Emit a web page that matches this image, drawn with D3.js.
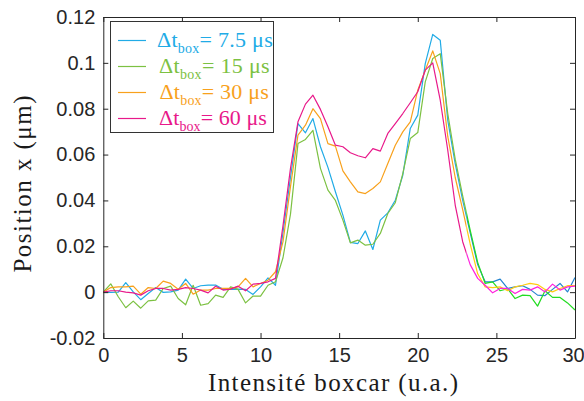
<!DOCTYPE html>
<html><head><meta charset="utf-8">
<script src="https://cdn.jsdelivr.net/npm/d3@7"></script>
<style>html,body{margin:0;padding:0;background:#fff;}svg{display:block;}</style>
</head><body><svg id="c" width="584" height="401"></svg>
<script>
const xValues = [0,0.476,0.952,1.429,1.905,2.381,2.857,3.333,3.810,4.286,4.762,5.238,5.714,6.190,6.667,7.143,7.619,8.095,8.571,9.048,9.524,10,10.476,10.952,11.429,11.905,12.381,12.857,13.333,13.810,14.286,14.762,15.238,15.714,16.190,16.667,17.143,17.619,18.095,18.571,19.048,19.524,20,20.476,20.952,21.429,21.905,22.381,22.857,23.333,23.810,24.286,24.762,25.238,25.714,26.190,26.667,27.143,27.619,28.095,28.571,29.048,29.524,30];
const seriesNames = ["7.5 μs","15 μs","30 μs","60 μs"];
const blue = [0,-0.0001,0,0.0041,0.0001,-0.0033,-0.0006,0.002,-0.0001,0.0001,0.0009,0.0057,0.0016,0.0028,0.0031,0.0031,0.0012,0.0012,0.0013,0.0012,-0.001,0.0023,0.0062,0.003,0.026,0.050,0.0735,0.0695,0.0757,0.0634,0.0544,0.0438,0.0336,0.0217,0.0212,0.0267,0.0186,0.0314,0.0346,0.0401,0.051,0.0714,0.0772,0.0997,0.1124,0.1099,0.075,0.056,0.040,0.026,0.012,0.0045,0.0045,0.0057,0.0016,0.0023,0.0028,0.0012,-0.0013,-0.0015,0.0012,0.0038,0.0001,0.0064];
const green = [0,0.0036,-0.002,-0.0068,-0.0039,-0.007,-0.0038,-0.0035,0.0016,0.0026,-0.0028,-0.0055,0.003,-0.0057,-0.005,-0.0013,-0.0023,0.0023,0.0012,-0.0047,-0.0017,-0.0017,0.003,0.0045,0.015,0.034,0.0648,0.0666,0.0706,0.054,0.0445,0.040,0.0314,0.0215,0.0227,0.0205,0.0209,0.0256,0.0343,0.039,0.0517,0.067,0.0696,0.0917,0.1019,0.104,0.078,0.058,0.042,0.027,0.013,0.0038,0.0045,0.0006,0.0015,-0.0028,-0.0013,-0.0015,-0.0061,0.0006,-0.0023,-0.0023,-0.0047,-0.0078];
const orange = [0,0.002,0.0023,0.0023,0.0026,-0.0009,0.002,0.0016,0.0048,0.0038,0.0013,0.0038,-0.0009,0.0009,0.0009,0.0016,0.0016,0.0016,0.0023,0.006,0.0023,0.0038,0.0052,0.0089,0.022,0.046,0.0685,0.0728,0.080,0.0757,0.0648,0.0637,0.0529,0.0481,0.0437,0.043,0.0452,0.0481,0.0561,0.0641,0.0699,0.0743,0.0881,0.0968,0.1052,0.0953,0.068,0.050,0.036,0.021,0.008,0.0023,0.002,0.0023,0.0006,0.0023,0.003,0.0038,0.0033,0.0012,0.0001,0.0016,0.0028,0.0029];
const pink = [0,0.0006,0.0006,0,-0.0003,-0.0013,0.0006,0.0016,0.0016,0.0009,0.0012,0.002,0.0016,0.0009,-0.0003,0.0026,0.0009,0.0013,0.0026,0.0006,0.0035,0.0038,0.0045,0.006,0.029,0.054,0.0743,0.082,0.0859,0.0797,0.0721,0.0641,0.0634,0.0608,0.0595,0.0586,0.0626,0.0615,0.0692,0.0735,0.0779,0.0826,0.0874,0.0968,0.1,0.0837,0.062,0.038,0.022,0.012,0.006,0.003,-0.0003,0.0016,0.0016,-0.0006,0.0012,0.0009,0.0023,0.0001,0.0035,0.0009,0.0023,0.0026];
const xTicks = [0,5,10,15,20,25,30];
const yTicks = [-0.02,0,0.02,0.04,0.06,0.08,0.1,0.12];
const yTickLabels = ["-0.02","0","0.02","0.04","0.06","0.08","0.1","0.12"];
const colors = ["#21abe6","#7cc142","#f8a11c","#e8198a"];
const tailColors = ["#2484cf","#22dc22","#ffcc11","#ff22dd"];
const tailStart = 23.1;

const svg = d3.select("#c");
const L=103.3, R=575, T=17, B=338;
const x = d3.scaleLinear().domain([0,30]).range([L,R]);
const y = d3.scaleLinear().domain([-0.02,0.12]).range([B,T]);
const axisColor = "#262626";
const SERIF = "Liberation Serif";
const SANS = "Liberation Sans";

const series = [blue, green, orange, pink];

svg.append("defs").call(d=>{
  d.append("clipPath").attr("id","cMain").append("rect")
    .attr("x",L).attr("y",0).attr("width",x(tailStart)-L).attr("height",401);
  d.append("clipPath").attr("id","cTail").append("rect")
    .attr("x",x(tailStart)).attr("y",0).attr("width",R-x(tailStart)+2).attr("height",401);
});

const line = d3.line().x((d,i)=>x(xValues[i])).y(d=>y(d));
const gMain = svg.append("g").attr("clip-path","url(#cMain)");
const gTail = svg.append("g").attr("clip-path","url(#cTail)");
series.forEach((s,k)=>{
  gMain.append("path").attr("d",line(s)).attr("fill","none").attr("stroke",colors[k]).attr("stroke-width",1.2).attr("stroke-linejoin","round");
});
series.forEach((s,k)=>{
  gTail.append("path").attr("d",line(s)).attr("fill","none").attr("stroke",tailColors[k]).attr("stroke-width",1.2).attr("stroke-linejoin","round");
});

// frame & axes
const xb = svg.append("g").attr("transform",`translate(0,${B})`)
  .call(d3.axisBottom(x).tickValues(xTicks).tickSizeInner(-5).tickSizeOuter(0).tickPadding(10).tickFormat(d3.format("d")));
const xt = svg.append("g").attr("transform",`translate(0,${T})`)
  .call(d3.axisTop(x).tickValues(xTicks).tickSizeInner(-5).tickSizeOuter(0).tickFormat(""));
const yl = svg.append("g").attr("transform",`translate(${L},0)`)
  .call(d3.axisLeft(y).tickValues(yTicks).tickSizeInner(-5).tickSizeOuter(0).tickPadding(8).tickFormat((d,i)=>yTickLabels[i]));
const yr = svg.append("g").attr("transform",`translate(${R},0)`)
  .call(d3.axisRight(y).tickValues(yTicks).tickSizeInner(-5).tickSizeOuter(0).tickFormat(""));
[xb,xt,yl,yr].forEach(g=>{
  g.attr("font-family",SANS).attr("font-size",20);
  g.selectAll("path").attr("stroke",axisColor).attr("stroke-width",1);
  g.selectAll("line").attr("stroke",axisColor).attr("stroke-width",1);
  g.selectAll("text").attr("fill",axisColor);
});
xb.selectAll("text").filter(d=>d===30).attr("dx",-2);

// axis titles
svg.append("text").attr("x",333).attr("y",391).attr("text-anchor","middle")
  .attr("font-family",SERIF).attr("font-size",25).attr("fill","#1a1a1a")
  .attr("textLength",250).attr("lengthAdjust","spacing")
  .text("Intensité boxcar (u.a.)");
svg.append("text").attr("transform","translate(31,184) rotate(-90)").attr("text-anchor","middle")
  .attr("font-family",SERIF).attr("font-size",25).attr("fill","#1a1a1a")
  .attr("textLength",177).attr("lengthAdjust","spacing")
  .text("Position x (μm)");

// legend
const lg = svg.append("g");
lg.append("rect").attr("x",110.5).attr("y",21.5).attr("width",163).attr("height",111)
  .attr("fill","#fff").attr("stroke","#333").attr("stroke-width",1);
const rowY = [40.5,66.5,92.5,118.5];
const textStart = [157,159,159.5,159];
const textEnd = [273,270,269,267];
seriesNames.forEach((n,k)=>{
  lg.append("line").attr("x1",118).attr("x2",146).attr("y1",rowY[k]).attr("y2",rowY[k])
    .attr("stroke",colors[k]).attr("stroke-width",1.2);
  const t = lg.append("text").attr("x",textStart[k]).attr("y",rowY[k]+6)
    .attr("font-family",SERIF).attr("font-size",22).attr("fill",colors[k]);
  t.append("tspan").text("Δt");
  t.append("tspan").attr("font-size",14).attr("dy",6).text("box");
  const last = t.append("tspan").attr("dy",-6).text("= "+n);
  const w = t.node().getComputedTextLength();
  const nch = ("Δtbox= "+n).length;
  const ls = (textEnd[k]-textStart[k]-w)/nch;
  t.attr("letter-spacing",ls);
});
</script></body></html>
